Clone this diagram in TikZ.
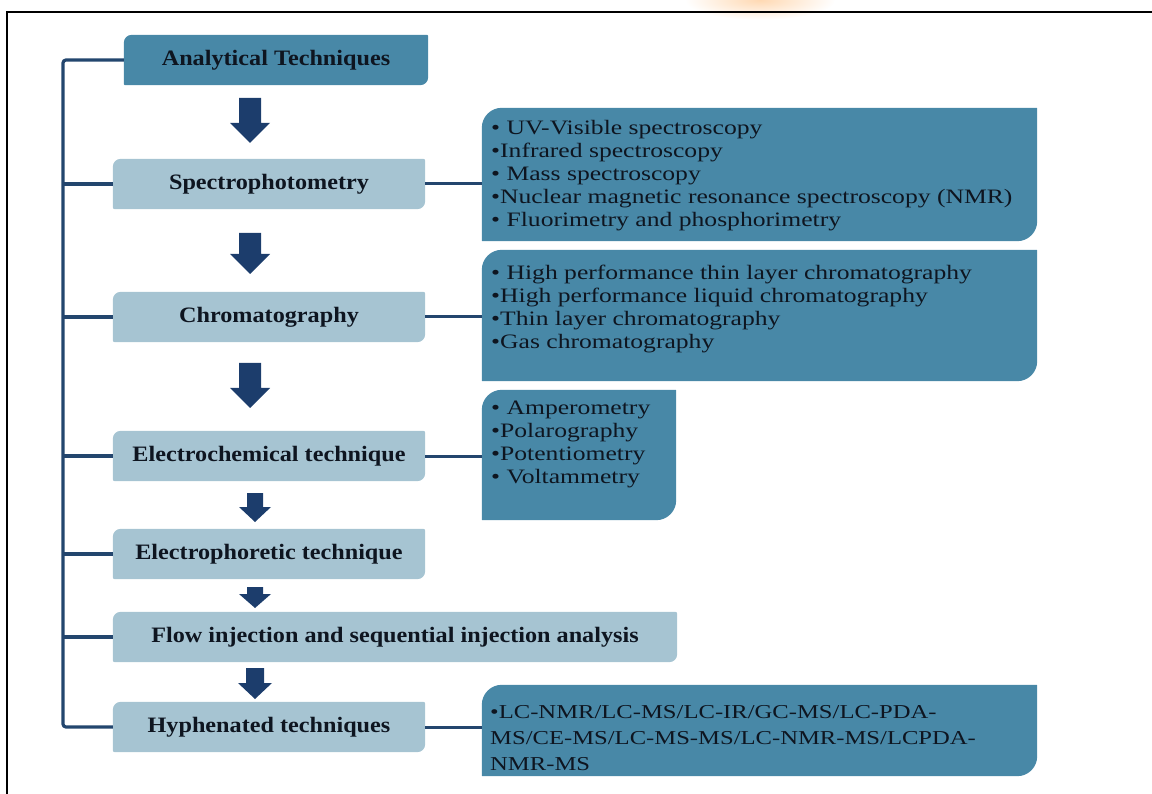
\documentclass[tikz,border=0pt]{standalone}
\usepackage{fontspec}
\setmainfont{Liberation Serif}
\newfontfamily\headfont[FakeStretch=1.1]{Liberation Serif}
\newfontfamily\listfont[FakeStretch=1.25]{Liberation Serif}
\usetikzlibrary{calc}
\pgfdeclarelayer{background}
\pgfsetlayers{background,main}

\definecolor{tealdark}{HTML}{4888A7}
\definecolor{teallight}{HTML}{A6C4D2}
\definecolor{navyline}{HTML}{23466E}
\definecolor{navyarrow}{HTML}{1C3D6C}
\definecolor{inkdark}{HTML}{0E1520}

\tikzset{
  stagebox/.style={rectangle, inner sep=0pt, minimum height=50pt,
    font=\headfont\bfseries\fontsize{22}{24}\selectfont, text=inkdark},
  listbox/.style={rectangle, inner sep=0pt},
  listtext/.style={anchor=north west, inner sep=0pt, align=left,
    font=\listfont\fontsize{20.5}{23}\selectfont, text=inkdark},
  trunk/.style={draw=navyline, line width=3.2pt},
  link/.style={draw=navyline, line width=3pt},
}

% fill a node's outline: big rounding top-left and bottom-right, small elsewhere
\newcommand\panelfill[4]{%
  \fill[#4] ([yshift=#3]#1.south west) -- ([yshift=-#2]#1.north west)
    arc[start angle=180,end angle=90,radius=#2]
    -- ([xshift=-#3]#1.north east)
    arc[start angle=90,end angle=0,radius=#3]
    -- ([yshift=#2]#1.south east)
    arc[start angle=0,end angle=-90,radius=#2]
    -- ([xshift=#3]#1.south west)
    arc[start angle=270,end angle=180,radius=#3] -- cycle;}

% block arrow pointing down: x, top, tip, shaft width, head width, head length
\newcommand\downblock[6]{%
  \fill[navyarrow] ({#1-#4/2},#2) -- ({#1+#4/2},#2) -- ({#1+#4/2},{#3-#6})
    -- ({#1+#5/2},{#3-#6}) -- (#1,#3) -- ({#1-#5/2},{#3-#6})
    -- ({#1-#4/2},{#3-#6}) -- cycle;}

\begin{document}
\begin{tikzpicture}[x=1pt,y=-1pt]
\useasboundingbox (0,0) rectangle (1152,794);

% faint mark at the top edge
\shade[inner color=orange!30, outer color=white] (760,0) ellipse [x radius=75pt, y radius=20pt];

% frame
\draw[line width=1.6pt, black] (1160,12) -- (7,12) -- (7,800);

% stage boxes
\node[stagebox, minimum width=304pt] (at) at (276,60) {Analytical Techniques};
\node[stagebox, minimum width=312pt] (sp) at (269,184) {Spectrophotometry};
\node[stagebox, minimum width=312pt] (ch) at (269,317) {Chromatography};
\node[stagebox, minimum width=312pt] (ec) at (269,456) {Electrochemical technique};
\node[stagebox, minimum width=312pt] (ep) at (269,554) {Electrophoretic technique};
\node[stagebox, minimum width=564pt] (fi) at (395,637) {Flow injection and sequential injection analysis};
\node[stagebox, minimum width=312pt] (hy) at (269,727) {Hyphenated techniques};

% list boxes
\node[listbox, minimum width=555pt, minimum height=133pt] (r1) at (759.5,174.5) {};
\node[listbox, minimum width=555pt, minimum height=131pt] (r2) at (759.5,315.5) {};
\node[listbox, minimum width=194pt, minimum height=130pt] (r3) at (579,455) {};
\node[listbox, minimum width=555pt, minimum height=91pt] (r4) at (759.5,730.5) {};

\node[listtext] (r1t) at (491,120.4) {• UV-Visible spectroscopy\\
  •Infrared spectroscopy\\
  • Mass spectroscopy\\
  •Nuclear magnetic resonance spectroscopy (NMR)\\
  • Fluorimetry and phosphorimetry};
\node[listtext] (r2t) at (491,264.4) {• High performance thin layer chromatography\\
  •High performance liquid chromatography\\
  •Thin layer chromatography\\
  •Gas chromatography};
\node[listtext] (r3t) at (491,400.4) {• Amperometry\\
  •Polarography\\
  •Potentiometry\\
  • Voltammetry};
\node[listtext, font=\listfont\fontsize{19.7}{26}\selectfont] (r4t) at (490,705)
  {•LC-NMR/LC-MS/LC-IR/GC-MS/LC-PDA-\\
  MS/CE-MS/LC-MS-MS/LC-NMR-MS/LCPDA-\\
  NMR-MS};

\begin{pgfonlayer}{background}
  \panelfill{at}{8pt}{1pt}{tealdark}
  \foreach \n in {sp,ch,ec,ep,fi,hy} {\panelfill{\n}{8pt}{2pt}{teallight}}
  \foreach \n in {r1,r2,r3,r4} {\panelfill{\n}{20pt}{0.5pt}{tealdark}}
\end{pgfonlayer}

% trunk line on the left
\coordinate (tk) at (63,60);
\draw[trunk, rounded corners=3pt] (at.west) -- (tk) -- (tk |- hy.west) -- (hy.west);
\foreach \n in {sp,ch,ec,ep,fi} {\draw[trunk] (\n.west) -- (\n.west -| tk);}

% links to the list boxes
\draw[link] (sp.east) -- (sp.east -| r1.west);
\draw[link] (ch.east) -- (ch.east -| r2.west);
\draw[link] (ec.east) -- (ec.east -| r3.west);
\draw[link] (hy.east) -- (hy.east -| r4.west);

% block arrows between stages
\downblock{250}{98}{143}{22}{40}{20}
\downblock{250}{233}{274}{22}{40}{20}
\downblock{250}{363}{408}{22}{40}{20}
\downblock{255}{493}{522}{16}{32}{15}
\downblock{255}{587}{608}{16}{32}{14}
\downblock{255}{668}{699}{18}{34}{16}
\end{tikzpicture}
\end{document}
